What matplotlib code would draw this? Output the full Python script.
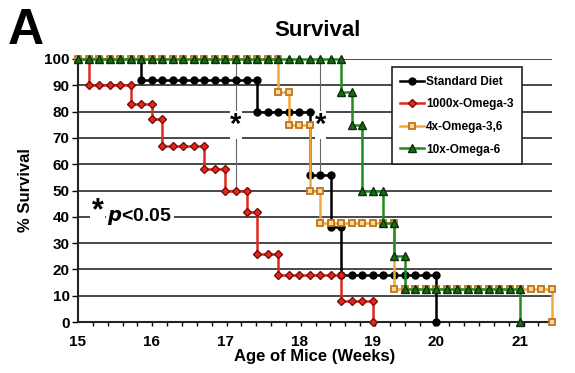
import matplotlib
matplotlib.use("Agg")
import matplotlib.pyplot as plt
import numpy as np

plt.rcParams['font.family'] = ['Liberation Sans', 'DejaVu Sans']
plt.rcParams['font.weight'] = 'bold'

# ---- data (x = day index since 15 weeks of age) ----
std_days = [0, 6, 17, 22, 24, 25, 34]
std_surv = [100, 92, 80, 56, 36, 18, 0]
o3_days = [0, 1, 5, 7, 8, 12, 14, 16, 17, 19, 25, 28]
o3_surv = [100, 90, 83, 77, 67, 58, 50, 42, 26, 18, 8, 0]
o36_days = [0, 19, 20, 22, 23, 30, 45]
o36_surv = [100, 87.5, 75, 50, 37.5, 12.5, 0]
o6_days = [0, 25, 26, 27, 29, 30, 31, 42]
o6_surv = [100, 87.5, 75, 50, 37.5, 25, 12.5, 0]

series_names = ["Standard Diet", "1000x-Omega-3", "4x-Omega-3,6", "10x-Omega-6"]
tick_pos = [0, 7, 14, 21, 28, 34, 42]
tick_labels = ["15", "16", "17", "18", "19", "20", "21"]
sig_days = [15, 23]
sig_top = [100, 98]
sig_bottom = [50, 56]


def expand(days, surv):
    xs, ys = [], []
    cur = surv[0]
    j = 0
    for d in range(days[0], days[-1] + 1):
        if j + 1 < len(days) and d == days[j + 1]:
            xs.append(d); ys.append(cur)
            j += 1
            cur = surv[j]
        xs.append(d); ys.append(cur)
    return xs, ys


fig = plt.figure(figsize=(5.75, 3.73), dpi=100)
ax = fig.add_axes([78/575, 1-322/373, (552-78)/575, (322-59)/373])

styles = [
    dict(color='black', marker='o', mfc='black', mec='black', ms=5),
    dict(color='#e0281e', marker='D', mfc='#e02a1e', mec='#7a0d08', ms=4.5),
    dict(color='#f4a83a', marker='s', mfc='#f8d9a0', mec='#c0741a', ms=4.8, mew=1.3),
    dict(color='#1e8c1e', marker='^', mfc='#1a6a1a', mec='#0b2f0b', ms=5.2),
]
data = [(std_days, std_surv), (o3_days, o3_surv), (o36_days, o36_surv), (o6_days, o6_surv)]

for k in range(10, 101, 10):
    ax.axhline(k, color='#3a3a3a', lw=1.3, zorder=1)

for i, (sd, top, bot) in enumerate(zip(sig_days, sig_top, sig_bottom)):
    ax.plot([sd, sd], [bot, top], color='#666666', lw=0.8, zorder=1.5)
    ax.text(sd, 75, '*', fontsize=21, ha='center', va='center', zorder=6,
            bbox=dict(facecolor='white', edgecolor='none', pad=0))

for (d, s), st, name in zip(data, styles, series_names):
    xs, ys = expand(d, s)
    ax.plot(xs, ys, lw=1.8, label=name, clip_on=False, zorder=3, **st)

ax.set_xlim(0, 45)
ax.set_ylim(0, 100)
ax.set_yticks(range(0, 101, 10))
ax.set_xticks(tick_pos)
ax.set_xticklabels(tick_labels, fontsize=11, fontweight='bold')
ax.tick_params(axis='x', which='major', length=0, pad=9)
ax.set_xticks(np.arange(0, 45.01, 1.41), minor=True)
ax.tick_params(axis='x', which='minor', length=3, width=1, direction='out')
ax.tick_params(axis='y', length=4, width=1, labelsize=11, pad=2)
for lab in ax.get_yticklabels():
    lab.set_fontweight('bold')

for sp in ['top', 'right']:
    ax.spines[sp].set_visible(False)
for sp in ['left', 'bottom']:
    ax.spines[sp].set_linewidth(1.5)
    ax.spines[sp].set_color('#222222')
    ax.spines[sp].set_zorder(2)

ax.set_ylabel('% Survival', fontsize=12, fontweight='bold', labelpad=8)
ax.set_xlabel('Age of Mice (Weeks)', fontsize=12, fontweight='bold', labelpad=0)

ax.text(1.3, 42, '*', fontsize=22, ha='left', va='center', zorder=6,
        bbox=dict(facecolor='white', edgecolor='none', pad=1))
ax.text(2.8, 40, r'$\mathbf{\it{p}}$<0.05', fontsize=14, ha='left', va='center', zorder=6,
        bbox=dict(facecolor='white', edgecolor='none', pad=1))

leg = ax.legend(loc='upper left', bbox_to_anchor=(0.662, 0.968), borderaxespad=0,
                prop=dict(weight='bold', size=8.5), frameon=True, fancybox=False,
                edgecolor='#222222', framealpha=1, numpoints=1, handlelength=2.0,
                handletextpad=0.2, labelspacing=0.9, borderpad=0.7)
leg.get_frame().set_linewidth(1.2)
leg.set_zorder(7)

fig.text(318/575, 1-30/373, 'Survival', fontsize=16, fontweight='bold', ha='center', va='center')
fig.text(8/575, 1-31/373, 'A', fontsize=36, fontweight='bold', ha='left', va='center')

fig.savefig('out.png', dpi=100)
